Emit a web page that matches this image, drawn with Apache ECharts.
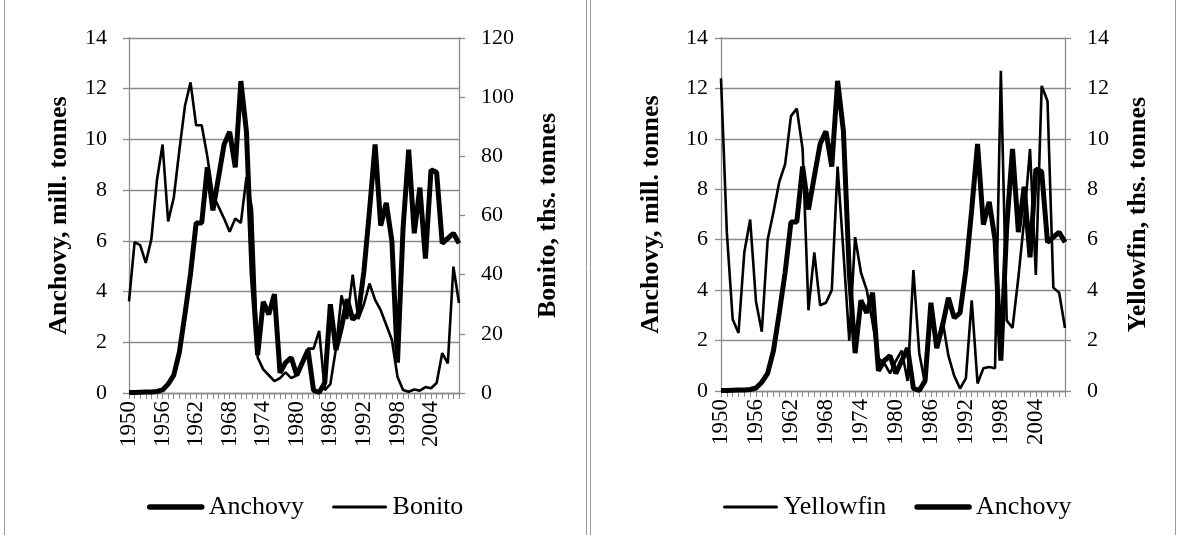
<!DOCTYPE html>
<html>
<head>
<meta charset="utf-8">
<title>Anchovy, Bonito, Yellowfin</title>
<script src="https://cdn.jsdelivr.net/npm/echarts/dist/echarts.min.js"></script>
</head>
<body style="margin:0;background:#fff">
<div id="container" style="width:1178px;height:535px"></div>
<script>
// years 1950..2009
var years = [];
for (var y = 1950; y <= 2009; y++) years.push(String(y));

// Anchovy, mill. tonnes
var anchovy = [0.02, 0.02, 0.03, 0.04, 0.04, 0.06, 0.12, 0.35, 0.7, 1.6,
  3.1, 4.7, 6.7, 6.7, 8.9, 7.2, 8.5, 9.8, 10.3, 8.9,
  12.3, 10.3, 4.7, 1.5, 3.6, 3.1, 3.9, 0.8, 1.2, 1.4,
  0.7, 1.2, 1.7, 0.1, 0.02, 0.4, 3.5, 1.7, 2.6, 3.7,
  2.9, 3.1, 4.8, 7.2, 9.8, 6.6, 7.5, 6.0, 1.2, 6.5,
  9.6, 6.3, 8.1, 5.3, 8.8, 8.7, 5.9, 6.1, 6.3, 5.9];

// Bonito, ths. tonnes
var bonito = [31, 51, 50, 44, 52, 72, 84, 58, 66, 82,
  97, 105, 90.5, 90.5, 80, 67, 63, 59, 54.5, 59,
  57.5, 73, 62, 12, 8, 6, 4, 5, 7, 5,
  6, 10, 15, 15, 21, 1, 3, 15, 33, 25,
  40, 25, 30, 37, 31.5, 28, 23, 18, 5.5, 1,
  0.4, 1.2, 0.8, 2, 1.6, 3.4, 13.5, 10, 42.7, 30.4];

// Yellowfin, ths. tonnes
var yellowfin = [12.4, 6.3, 2.85, 2.3, 5.5, 6.8, 3.55, 2.35, 6.0, 7.1,
  8.3, 9.0, 10.9, 11.2, 9.6, 3.2, 5.5, 3.4, 3.5, 4.0,
  8.9, 5.5, 2.0, 6.1, 4.7, 4.0, 2.7, 1.3, 1.1, 0.7,
  1.2, 1.6, 0.4, 4.8, 1.5, 0.3, 3.4, 1.8, 2.8, 1.4,
  0.6, 0.1, 0.5, 3.6, 0.3, 0.9, 0.95, 0.9, 12.7, 2.8,
  2.5, 4.5, 6.8, 9.6, 4.6, 12.1, 11.5, 4.1, 3.9, 2.5];

var FONT = 'Liberation Serif';
var GRID_GRAY = '#8a8a8a';
var THICK = 5, THIN = 2.6;

function xAxisFor(gi) {
  return {
    type: 'category', gridIndex: gi, data: years, boundaryGap: false,
    axisLine: { lineStyle: { color: GRID_GRAY, width: 1.3 } },
    axisTick: { show: true, interval: 0, length: 6, lineStyle: { color: GRID_GRAY } },
    axisLabel: { interval: 5, rotate: 90, margin: 8, color: '#000', fontFamily: FONT, fontSize: 23 },
    splitLine: { show: false }
  };
}

function yAxisFor(gi, pos, max, interval, name, margin, gap, grid) {
  return {
    type: 'value', gridIndex: gi, position: pos, min: 0, max: max, interval: interval,
    name: name, nameLocation: 'middle', nameRotate: 90, nameGap: gap,
    nameTextStyle: { fontFamily: FONT, fontSize: 26, fontWeight: 'bold', color: '#000' },
    axisLine: { show: true, lineStyle: { color: GRID_GRAY, width: 1.3 } },
    axisTick: { show: true, length: 6, lineStyle: { color: GRID_GRAY, width: 1.3 } },
    axisLabel: { margin: margin, color: '#000', fontFamily: FONT, fontSize: 22 },
    splitLine: { show: grid, lineStyle: { color: GRID_GRAY, width: 1.3 } }
  };
}

function line(name, xi, yi, data, w) {
  return {
    name: name, type: 'line', xAxisIndex: xi, yAxisIndex: yi, data: data,
    symbol: 'none', lineStyle: { color: '#000', width: w }, itemStyle: { color: '#000' }
  };
}

function legendItem(name, w) {
  return { name: name, lineStyle: { width: w, color: '#000', cap: 'round' } };
}

function legendFor(left, items) {
  return {
    data: items, left: left, top: 489, itemWidth: 52, itemHeight: 14, itemGap: 28,
    itemStyle: { opacity: 0 },
    textStyle: { fontFamily: FONT, fontSize: 26, color: '#000', padding: [0, 0, 0, 2] }
  };
}

var chart = echarts.init(document.getElementById('container'), null, { renderer: 'canvas' });

var option = {
  backgroundColor: '#fff',
  animation: false,
  grid: [
    { left: 129, top: 38, width: 330, height: 355 },
    { left: 721, top: 38, width: 344, height: 353 }
  ],
  xAxis: [xAxisFor(0), xAxisFor(1)],
  yAxis: [
    yAxisFor(0, 'left', 14, 2, 'Anchovy, mill. tonnes', 22, 57, true),
    yAxisFor(0, 'right', 120, 20, 'Bonito, ths. tonnes', 22, 76, false),
    yAxisFor(1, 'left', 14, 2, 'Anchovy, mill. tonnes', 13, 57, true),
    yAxisFor(1, 'right', 14, 2, 'Yellowfin, ths. tonnes', 22, 60, false)
  ],
  legend: [
    legendFor(142, [legendItem('Anchovy', 5.5), legendItem('Bonito', 3)]),
    legendFor(718, [legendItem('Yellowfin', 3), legendItem('Anchovy', 5.5)])
  ],
  graphic: [
    { type: 'rect', shape: { x: 4.5, y: -10, width: 582, height: 560 }, style: { fill: 'none', stroke: '#9a9a9a', lineWidth: 1 } },
    { type: 'rect', shape: { x: 590.5, y: -10, width: 585, height: 560 }, style: { fill: 'none', stroke: '#9a9a9a', lineWidth: 1 } }
  ],
  series: [
    line('Anchovy', 0, 0, anchovy, THICK),
    line('Bonito', 0, 1, bonito, THIN),
    line('Yellowfin', 1, 3, yellowfin, THIN),
    line('Anchovy', 1, 2, anchovy, THICK)
  ]
};

chart.setOption(option);
window.addEventListener('resize', chart.resize);
</script>
</body>
</html>
